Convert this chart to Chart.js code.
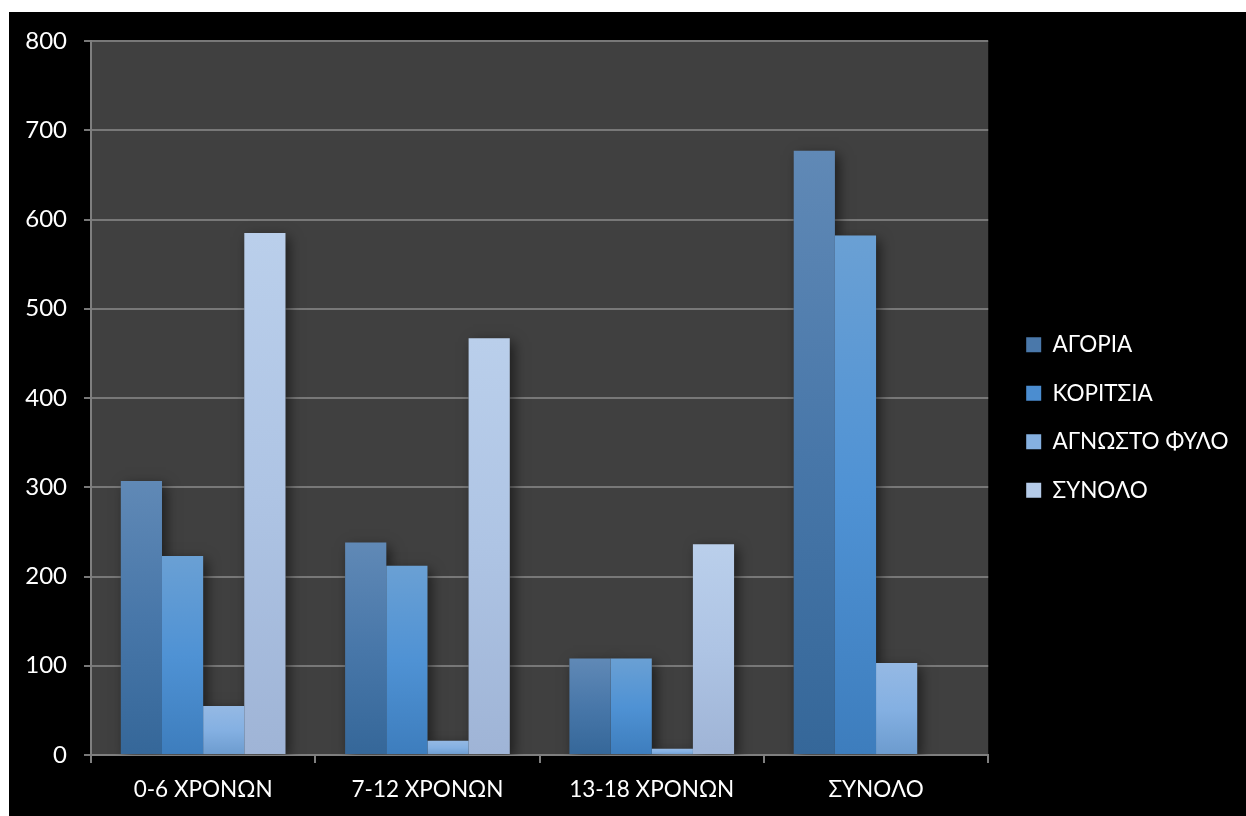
<!DOCTYPE html>
<html>
<head>
<meta charset="utf-8">
<script src="https://cdn.jsdelivr.net/npm/chart.js@4/dist/chart.umd.min.js"></script>
<style>
  html, body { margin: 0; padding: 0; background: #ffffff; width: 1246px; height: 816px; overflow: hidden; }
  #wrap { position: absolute; left: 9px; top: 12px; width: 1237px; height: 804px; background: #000000; }
  canvas { display: block; }
</style>
</head>
<body>
<div id="wrap"><canvas id="c" width="1237" height="804"></canvas></div>
<script>
const categories = ['0-6 ΧΡΟΝΩΝ', '7-12 ΧΡΟΝΩΝ', '13-18 ΧΡΟΝΩΝ', 'ΣΥΝΟΛΟ'];
const seriesNames = ['ΑΓΟΡΙΑ', 'ΚΟΡΙΤΣΙΑ', 'ΑΓΝΩΣΤΟ ΦΥΛΟ', 'ΣΥΝΟΛΟ'];
const boys = [307, 238, 108, 677];
const girls = [223, 212, 108, 582];
const unknownSex = [55, 16, 7, 103];
const totals = [585, 467, 236, null];
const yTicks = [0, 100, 200, 300, 400, 500, 600, 700, 800];

const FONT = "Lato, 'Open Sans', 'DejaVu Sans', sans-serif";

// gradient stops per series (top, middle, bottom) and a solid legend colour
const palettes = [
  { stops: ['#6089b6', '#4877a9', '#356799'], solid: '#4a78aa' },
  { stops: ['#6aa0d4', '#4f92d4', '#3d7dbd'], solid: '#4b8dd0' },
  { stops: ['#95b9e4', '#84b0e2', '#6c9bce'], solid: '#85b0e0' },
  { stops: ['#bacfeb', '#aec4e4', '#9fb4d6'], solid: '#b5cbe8' }
];

function barGradient(p) {
  return function (ctx) {
    const chart = ctx.chart;
    if (!chart.chartArea || ctx.type !== 'data' || ctx.raw == null) return p.solid;
    const ys = chart.scales.y;
    const top = ys.getPixelForValue(ctx.raw);
    const bot = ys.getPixelForValue(0);
    if (!isFinite(top) || !isFinite(bot) || Math.abs(bot - top) < 1) return p.stops[1];
    const g = chart.ctx.createLinearGradient(0, top, 0, bot);
    g.addColorStop(0, p.stops[0]);
    g.addColorStop(0.5, p.stops[1]);
    g.addColorStop(1, p.stops[2]);
    return g;
  };
}

const seriesData = [boys, girls, unknownSex, totals];

const plotBg = {
  id: 'plotBg',
  beforeDraw(chart) {
    const { ctx, chartArea: a } = chart;
    ctx.save();
    ctx.fillStyle = '#404040';
    ctx.fillRect(a.left, a.top, a.right - a.left, a.bottom - a.top);
    ctx.restore();
  }
};

const barShadow = {
  id: 'barShadow',
  beforeDatasetsDraw(chart) {
    const { ctx, chartArea: a } = chart;
    ctx.save();
    ctx.beginPath();
    ctx.rect(a.left, a.top, a.right - a.left, a.bottom - a.top);
    ctx.clip();
    ctx.shadowColor = 'rgba(0,0,0,0.55)';
    ctx.shadowBlur = 12;
    ctx.shadowOffsetX = 4;
    ctx.shadowOffsetY = 4;
    ctx.fillStyle = '#404040';
    chart.data.datasets.forEach((ds, i) => {
      const meta = chart.getDatasetMeta(i);
      meta.data.forEach((el, j) => {
        if (ds.data[j] == null) return;
        const l = el.x - el.width / 2;
        const t = Math.min(el.y, el.base);
        const h = Math.abs(el.base - el.y);
        ctx.fillRect(l, t, el.width, h);
      });
    });
    ctx.restore();
  }
};

const legendShift = {
  id: 'legendShift',
  afterLayout(chart) {
    const lg = chart.legend;
    if (!lg) return;
    lg.left += 12; lg.right += 12;
    lg.top -= 11; lg.bottom -= 11;
  }
};

new Chart(document.getElementById('c'), {
  type: 'bar',
  data: {
    labels: categories,
    datasets: seriesData.map((d, i) => ({
      label: seriesNames[i],
      data: d,
      backgroundColor: barGradient(palettes[i]),
      borderWidth: 0,
      barPercentage: 1.0,
      categoryPercentage: 0.734
    }))
  },
  options: {
    responsive: false,
    devicePixelRatio: 1,
    animation: false,
    layout: { padding: { left: 0, top: 29, right: 19.5, bottom: 0 } },
    plugins: {
      tooltip: { enabled: false },
      legend: {
        position: 'right',
        align: 'center',
        labels: {
          color: '#ffffff',
          font: { family: FONT, size: 22.5 },
          boxWidth: 15,
          boxHeight: 15,
          padding: 26,
          generateLabels(chart) {
            return chart.data.datasets.map((ds, i) => ({
              text: ds.label,
              fillStyle: palettes[i].solid,
              strokeStyle: 'rgba(0,0,0,0)',
              lineWidth: 0,
              fontColor: '#ffffff',
              hidden: false,
              datasetIndex: i
            }));
          }
        }
      }
    },
    scales: {
      x: {
        afterFit(scale) { scale.paddingLeft = 0; scale.paddingRight = 0; },
        grid: { display: true, drawOnChartArea: false, drawTicks: true, tickLength: 8, color: '#7f7f7f', lineWidth: 2, offset: true },
        border: { display: true, color: '#7f7f7f', width: 2 },
        ticks: { color: '#ffffff', font: { family: FONT, size: 22.5 }, padding: 13, maxRotation: 0 }
      },
      y: {
        min: 0,
        max: 800,
        afterBuildTicks(scale) { scale.ticks = yTicks.map(v => ({ value: v })); },
        afterFit(scale) { scale.width = 82; scale.paddingTop = 0; scale.paddingBottom = 0; },
        grid: { color: '#787878', lineWidth: 2, tickLength: 7, drawTicks: true },
        border: { display: true, color: '#7f7f7f', width: 2 },
        ticks: { color: '#ffffff', font: { family: FONT, size: 24 }, padding: 17 }
      }
    }
  },
  plugins: [plotBg, barShadow, legendShift]
});
</script>
</body>
</html>
